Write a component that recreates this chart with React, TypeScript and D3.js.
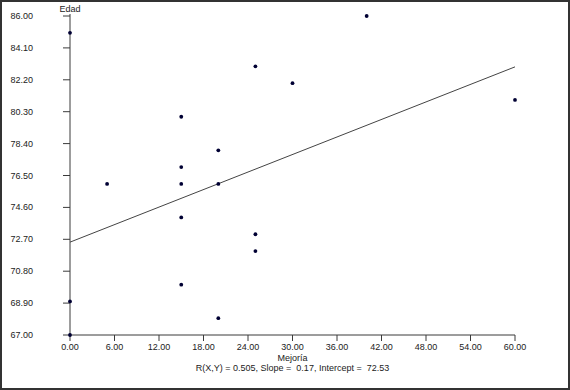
import * as d3 from 'd3'

// Mejoría (x) vs Edad (y)
const mejoria = [0, 0, 0, 5, 15, 15, 15, 15, 15, 20, 20, 20, 25, 25, 25, 30, 40, 60]
const edad = [85, 69, 67, 76, 80, 77, 76, 74, 70, 78, 76, 68, 83, 73, 72, 82, 86, 81]

const xTickValues = [0, 6, 12, 18, 24, 30, 36, 42, 48, 54, 60]
const yTickValues = [67, 68.9, 70.8, 72.7, 74.6, 76.5, 78.4, 80.3, 82.2, 84.1, 86]

const rxy = 0.505
const slope = 0.174
const intercept = 72.53

const W = 570
const H = 390
const FONT = 'Liberation Sans, Arial, sans-serif'

export default function App() {
    const x = d3.scaleLinear().domain([0, 60]).range([70, 515])
    const y = d3.scaleLinear().domain([67, 86]).range([335, 16])
    const fmt = d3.format('.2f')
    const axisColor = '#3a3a3a'
    const textColor = '#222'

    const x0 = x.domain()[0]
    const x1 = x.domain()[1]

    return (
        <svg
            width={W}
            height={H}
            style={{ position: 'absolute', left: 0, top: 0 }}
            fontFamily={FONT}
        >
            <rect x={1} y={1} width={W - 2} height={H - 2} fill="#fff" stroke="#333" strokeWidth={2} />

            {/* y axis */}
            <line x1={x(0)} x2={x(0)} y1={y(86) - 2} y2={y(67)} stroke={axisColor} />
            {yTickValues.map((v) => (
                <g key={'y' + v}>
                    <line x1={x(0) - 7} x2={x(0)} y1={y(v)} y2={y(v)} stroke={axisColor} />
                    <text x={33} y={y(v) + 3} textAnchor="end" fontSize={9} fill={textColor}>
                        {fmt(v)}
                    </text>
                </g>
            ))}
            <text x={x(0)} y={12} textAnchor="middle" fontSize={9} fill={textColor}>
                Edad
            </text>

            {/* x axis */}
            <line x1={x(0)} x2={x(60)} y1={y(67)} y2={y(67)} stroke={axisColor} />
            {xTickValues.map((v) => (
                <g key={'x' + v}>
                    <line x1={x(v)} x2={x(v)} y1={y(67)} y2={y(67) + 6} stroke={axisColor} />
                    <text x={x(v)} y={y(67) + 15} textAnchor="middle" fontSize={9} fill={textColor}>
                        {fmt(v)}
                    </text>
                </g>
            ))}
            <text x={(x(0) + x(60)) / 2} y={361} textAnchor="middle" fontSize={9} fill={textColor}>
                Mejoría
            </text>
            <text x={(x(0) + x(60)) / 2} y={371} textAnchor="middle" fontSize={9} fill={textColor} style={{ whiteSpace: 'pre' }}>
                {`R(X,Y) = ${rxy.toFixed(3)}, Slope =  ${slope.toFixed(2)}, Intercept =  ${intercept.toFixed(2)}`}
            </text>

            {/* regression line */}
            <line
                x1={x(x0)}
                y1={y(intercept + slope * x0)}
                x2={x(x1)}
                y2={y(intercept + slope * x1)}
                stroke="#444"
                strokeWidth={1}
            />

            {/* points */}
            {mejoria.map((m, i) => (
                <circle key={i} cx={x(m)} cy={y(edad[i])} r={1.9} fill="#000033" />
            ))}
        </svg>
    )
}
